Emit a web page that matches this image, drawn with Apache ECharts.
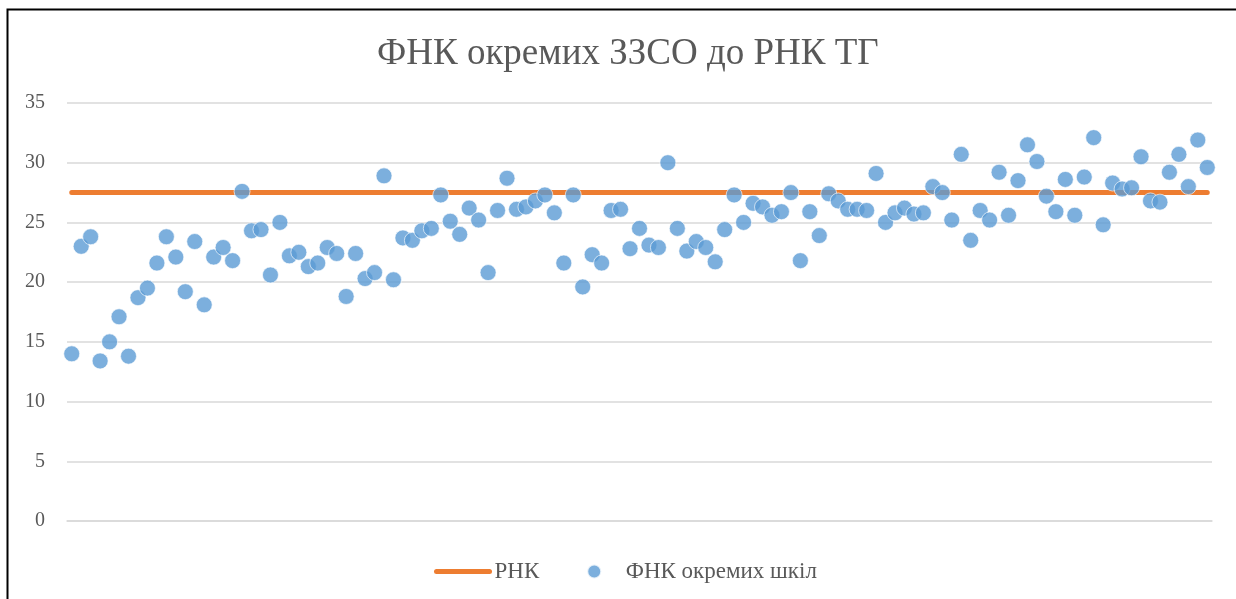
<!DOCTYPE html>
<html>
<head>
<meta charset="utf-8">
<script src="https://cdn.jsdelivr.net/npm/echarts@6/dist/echarts.min.js"></script>
<style>
html,body{margin:0;padding:0;background:#fff;}
#chart{width:1236px;height:599px;}
</style>
</head>
<body>
<div id="chart"></div>
<script>
var titleText = 'ФНК окремих ЗЗСО до РНК ТГ';
var seriesNames = ['РНК', 'ФНК окремих шкіл'];
var schoolValues = [
  14.0, 23.0, 23.8, 13.4, 15.0, 17.1, 13.8, 18.7, 19.5, 21.6,
  23.8, 22.1, 19.2, 23.4, 18.1, 22.1, 22.9, 21.8, 27.6, 24.3,
  24.4, 20.6, 25.0, 22.2, 22.5, 21.3, 21.6, 22.9, 22.4, 18.8,
  22.4, 20.3, 20.8, 28.9, 20.2, 23.7, 23.5, 24.3, 24.5, 27.3,
  25.1, 24.0, 26.2, 25.2, 20.8, 26.0, 28.7, 26.1, 26.3, 26.8,
  27.3, 25.8, 21.6, 27.3, 19.6, 22.3, 21.6, 26.0, 26.1, 22.8,
  24.5, 23.1, 22.9, 30.0, 24.5, 22.6, 23.4, 22.9, 21.7, 24.4,
  27.3, 25.0, 26.6, 26.3, 25.6, 25.9, 27.5, 21.8, 25.9, 23.9,
  27.4, 26.8, 26.1, 26.1, 26.0, 29.1, 25.0, 25.8, 26.2, 25.7,
  25.8, 28.0, 27.5, 25.2, 30.7, 23.5, 26.0, 25.2, 29.2, 25.6,
  28.5, 31.5, 30.1, 27.2, 25.9, 28.6, 25.6, 28.8, 32.1, 24.8,
  28.3, 27.8, 27.9, 30.5, 26.8, 26.7, 29.2, 30.7, 28.0, 31.9,
  29.6
];
var rnkValue = 27.5;
var categories = schoolValues.map(function (v, i) { return String(i + 1); });
var rnkValues = categories.map(function () { return rnkValue; });

var chart = echarts.init(document.getElementById('chart'));
var serif = '"Liberation Serif", "DejaVu Serif", serif';
chart.setOption({
  animation: false,
  backgroundColor: '#ffffff',
  title: {
    text: titleText,
    left: 372,
    top: 31,
    textStyle: { fontFamily: serif, fontSize: 37, fontWeight: 'normal', color: '#595959' }
  },
  legend: {
    bottom: 11,
    left: 429,
    itemGap: 47,
    itemWidth: 53,
    itemHeight: 14,
    textStyle: { fontFamily: serif, fontSize: 23, color: '#595959' },
    data: [
      {
        name: seriesNames[0],
        itemStyle: { color: 'rgba(0,0,0,0)', borderWidth: 0 },
        lineStyle: { color: '#ED7D31', width: 5, cap: 'round' }
      },
      { name: seriesNames[1], icon: 'circle' }
    ]
  },
  grid: { left: 67, right: 24, top: 103, bottom: 78 },
  xAxis: {
    type: 'category',
    data: categories,
    boundaryGap: true,
    axisLine: { show: true, lineStyle: { color: '#d9d9d9', width: 1.5 } },
    axisTick: { show: false },
    axisLabel: { show: false },
    splitLine: { show: false }
  },
  yAxis: {
    type: 'value',
    min: 0,
    max: 35,
    interval: 5,
    axisLine: { show: false },
    axisTick: { show: false },
    axisLabel: { fontFamily: serif, fontSize: 20, color: '#595959', margin: 22 },
    splitLine: { lineStyle: { color: '#d9d9d9', width: 1.5 } }
  },
  series: [
    {
      name: seriesNames[0],
      type: 'line',
      data: rnkValues,
      symbol: 'none',
      lineStyle: { color: '#ED7D31', width: 5, cap: 'round' },
      itemStyle: { color: '#ED7D31' },
      z: 2
    },
    {
      name: seriesNames[1],
      type: 'scatter',
      data: schoolValues,
      symbol: 'circle',
      symbolSize: 16,
      itemStyle: { color: '#5B9BD5', borderColor: '#ffffff', borderWidth: 0.8 },
      z: 3
    }
  ],
  graphic: [
    {
      type: 'rect',
      shape: { x: 7.5, y: 9.5, width: 1400, height: 800 },
      style: { fill: 'none', stroke: '#000000', lineWidth: 2 },
      silent: true
    }
  ]
});
</script>
</body>
</html>
